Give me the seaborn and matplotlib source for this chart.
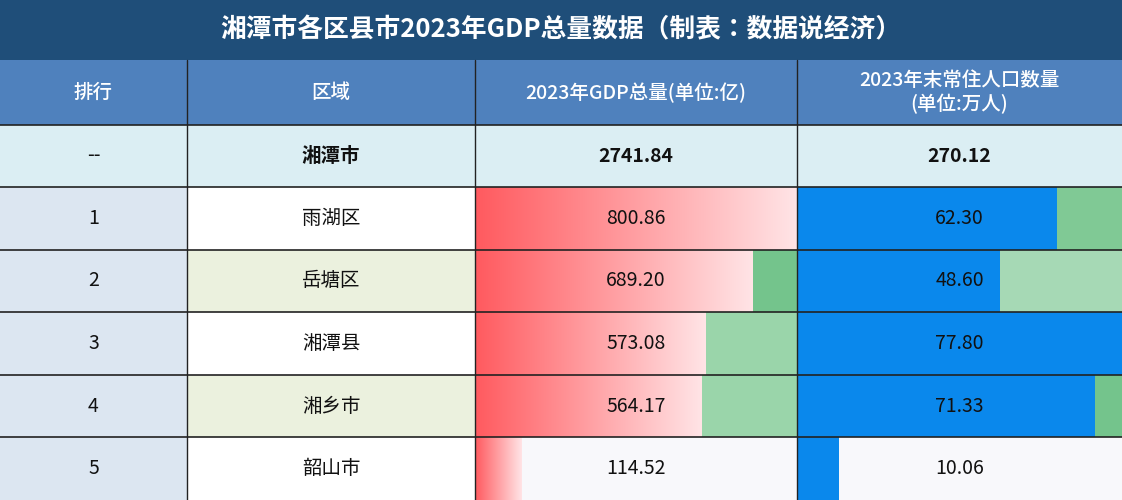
import matplotlib
matplotlib.use('Agg')
import numpy as np
import matplotlib.pyplot as plt
import seaborn as sns
from matplotlib.patches import Rectangle
from matplotlib.colors import LinearSegmentedColormap
from matplotlib import font_manager

sns.set_theme(style="white")
cjk = [f.name for f in font_manager.fontManager.ttflist if 'CJK' in f.name]
plt.rcParams['font.family'] = sorted(set(cjk)) + ['DejaVu Sans']

# Data
title = '湘潭市各区县市2023年GDP总量数据（制表：数据说经济）'
headers = ['排行', '区域', '2023年GDP总量(单位:亿)', '2023年末常住人口数量\n(单位:万人)']
total_name = '湘潭市'
total_gdp = 2741.84
total_pop = 270.12
ranks = ['1', '2', '3', '4', '5']
regions = ['雨湖区', '岳塘区', '湘潭县', '湘乡市', '韶山市']
gdp = [800.86, 689.20, 573.08, 564.17, 114.52]
pop = [62.30, 48.60, 77.80, 71.33, 10.06]

W, H = 1122, 500
fig = plt.figure(figsize=(W / 100, H / 100), dpi=100)
ax = fig.add_axes([0, 0, 1, 1])
ax.set_xlim(0, W)
ax.set_ylim(H, 0)
ax.axis('off')

cols = [0, 187, 475, 797, 1122]
rows = [60, 125, 187, 250, 312, 375, 437, 500]

def cell(x0, x1, y0, y1, color):
    ax.add_patch(Rectangle((x0, y0), x1 - x0, y1 - y0, facecolor=color, edgecolor='none'))

# title
cell(0, W, 0, rows[0], '#1f4e79')
ax.text(W / 2, 30, title, color='white', fontsize=18.5, fontweight='bold', ha='center', va='center')
# header
for i, h in enumerate(headers):
    cell(cols[i], cols[i + 1], rows[0], rows[1], '#4f81bd')
    ax.text((cols[i] + cols[i + 1]) / 2, (rows[0] + rows[1]) / 2, h, color='white', fontsize=14,
            fontweight='medium', ha='center', va='center', linespacing=1.25)
# total row
cell(0, W, rows[1], rows[2], '#dbeef3')
for i, t in enumerate(['--', total_name, f'{total_gdp:.2f}', f'{total_pop:.2f}']):
    ax.text((cols[i] + cols[i + 1]) / 2, (rows[1] + rows[2]) / 2, t, fontsize=14,
            fontweight='bold' if i else 'normal', ha='center', va='center', color='#111111')

gdp_bg = ['#80c995', '#74c48c', '#9ad5aa', '#9ad5aa', '#f8f8fb']
pop_bg = ['#80c995', '#a6d9b5', '#80c995', '#74c48c', '#f8f8fb']
region_bg = ['white', '#ebf1de', 'white', '#ebf1de', 'white']
grad = LinearSegmentedColormap.from_list('g', ['#ff5a5f', '#ffe4e6'])
gmax, pmax = max(gdp), max(pop)
for r in range(5):
    y0, y1 = rows[r + 2], rows[r + 3]
    yc = (y0 + y1) / 2
    cell(cols[0], cols[1], y0, y1, '#dce6f1')
    cell(cols[1], cols[2], y0, y1, region_bg[r])
    cell(cols[2], cols[3], y0, y1, gdp_bg[r])
    cell(cols[3], cols[4], y0, y1, pop_bg[r])
    gw = gdp[r] / gmax * (cols[3] - cols[2])
    ax.imshow(np.linspace(0, 1, 256)[None, :], cmap=grad, aspect='auto',
              extent=(cols[2], cols[2] + gw, y1, y0), zorder=2)
    pw = pop[r] / pmax * (cols[4] - cols[3])
    ax.add_patch(Rectangle((cols[3], y0), pw, y1 - y0, facecolor='#0a88ec', edgecolor='none', zorder=2))
    texts = [ranks[r], regions[r], f'{gdp[r]:.2f}', f'{pop[r]:.2f}']
    for i, t in enumerate(texts):
        ax.text((cols[i] + cols[i + 1]) / 2, yc, t, fontsize=14, ha='center', va='center',
                color='#111111', zorder=3)

# grid lines
for y in rows[1:-1]:
    ax.plot([0, W], [y, y], color='#222222', lw=1.2, zorder=4)
for x in cols[1:-1]:
    ax.plot([x, x], [rows[0], H], color='#222222', lw=1, zorder=4)
ax.set_xlim(0, W)
ax.set_ylim(H, 0)

fig.savefig('out.png', dpi=100)
